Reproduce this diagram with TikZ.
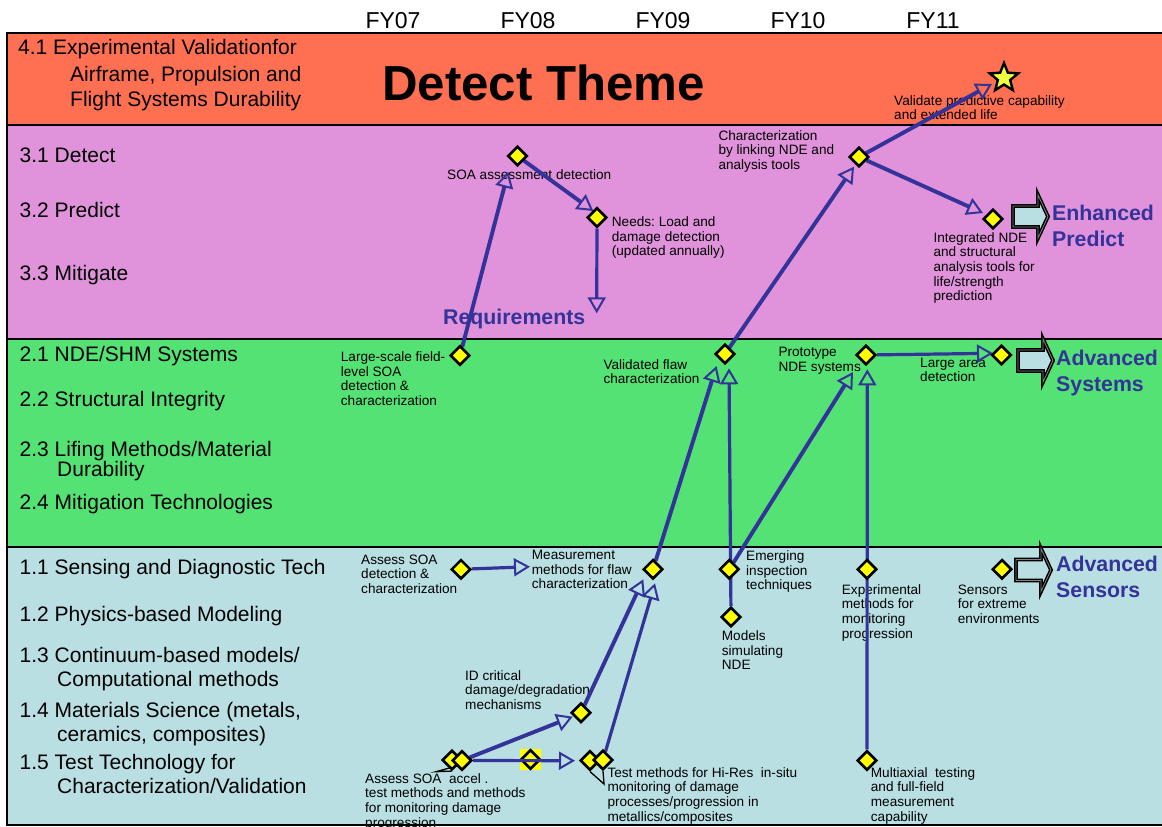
\documentclass[tikz,border=0pt]{standalone}
\usepackage{fontspec}
\setmainfont{Liberation Sans}
\usetikzlibrary{arrows.meta,shapes.geometric}
\frenchspacing

\definecolor{bandorange}{RGB}{255,111,82}
\definecolor{bandpurple}{RGB}{224,147,219}
\definecolor{bandgreen}{RGB}{84,226,116}
\definecolor{bandblue}{RGB}{185,223,227}
\definecolor{flowblue}{RGB}{51,51,153}
\definecolor{markyellow}{RGB}{255,255,0}
\definecolor{staryellow}{RGB}{238,255,64}

\pgfdeclarelayer{bands}
\pgfdeclarelayer{labels}
\pgfdeclarelayer{links}
\pgfsetlayers{bands,labels,links,main}

\begin{document}
\begin{tikzpicture}[x=1pt, y=-1pt,
  bandrule/.style={draw=black, line width=2pt},
  milestone/.style={diamond, draw=black, line width=2.6pt, fill=markyellow,
    inner sep=0pt, minimum width=19.5pt, minimum height=19.5pt},
  lbl/.style={font=\fontsize{13.6}{14.6}\selectfont, align=left,
    anchor=north west, inner sep=0pt, text=black},
  bandlbl/.style={font=\fontsize{21}{24}\selectfont, anchor=base west, inner sep=0pt},
  yearlbl/.style={font=\fontsize{23}{26}\selectfont, anchor=base, inner sep=0pt},
  goal/.style={font=\bfseries\fontsize{21.3}{25.5}\selectfont, text=flowblue,
    align=left, anchor=north west, inner sep=0pt},
  flow/.style={draw=flowblue, line width=3.9pt,
    -{Triangle[open, length=16pt, width=18pt, line width=2pt]}},
  twin/.style={flow, line width=3.2pt},
  callout/.style={draw=black, line width=1.3pt},
  pics/bigarrow/.style={code={
    \path[draw=black, line width=1.5pt, double=gray, double distance=0.8pt, #1]
      (0,-10.5) -- (25,-10.5) -- (25,-21.5) -- (35,0) -- (25,21.5)
      -- (25,10.5) -- (0,10.5) -- cycle;
  }}
]
\useasboundingbox (0,0) rectangle (1162,827);

% ---------- horizontal bands ----------
\begin{pgfonlayer}{bands}
\begin{scope}
  \clip (0,0) rectangle (1162,827);
  \path[bandrule, fill=bandorange] (7,33)    rectangle (1180,124.5);
  \path[bandrule, fill=bandpurple] (7,124.5) rectangle (1180,338.5);
  \path[bandrule, fill=bandgreen]  (7,338.5) rectangle (1180,547);
  \path[bandrule, fill=bandblue]   (7,547)   rectangle (1180,825);
\end{scope}
\end{pgfonlayer}

% ---------- texts ----------
\begin{pgfonlayer}{labels}
  % fiscal years
  \node[yearlbl] (fy07) at (393,28.5) {FY07};
  \node[yearlbl] (fy08) at (528,28.5) {FY08};
  \node[yearlbl] (fy09) at (663,28.5) {FY09};
  \node[yearlbl] (fy10) at (798,28.5) {FY10};
  \node[yearlbl] (fy11) at (933,28.5) {FY11};

  % band headings
  \node[bandlbl] (h41a) at (18,54.5)  {4.1 Experimental Validationfor};
  \node[bandlbl] (h41b) at (70,81.5)  {Airframe, Propulsion and};
  \node[bandlbl] (h41c) at (70,106.5) {Flight Systems Durability};
  \node[font=\bfseries\fontsize{49.2}{54}\selectfont, anchor=base, inner sep=0pt]
    (theme) at (543.5,100) {Detect Theme};

  \node[bandlbl] (h31) at (19.5,162.5) {3.1 Detect};
  \node[bandlbl] (h32) at (19.5,217.5) {3.2 Predict};
  \node[bandlbl] (h33) at (19.5,280)   {3.3 Mitigate};

  \node[bandlbl] (h21)  at (19.5,361)   {2.1 NDE/SHM Systems};
  \node[bandlbl] (h22)  at (19.5,406)   {2.2 Structural Integrity};
  \node[bandlbl] (h23a) at (19.5,456)   {2.3 Lifing Methods/Material};
  \node[bandlbl] (h23b) at (57,476.5)   {Durability};
  \node[bandlbl] (h24)  at (19.5,509)   {2.4 Mitigation Technologies};

  \node[bandlbl] (h11)  at (19.5,574.5) {1.1 Sensing and Diagnostic Tech};
  \node[bandlbl] (h12)  at (19.5,621.5) {1.2 Physics-based Modeling};
  \node[bandlbl] (h13a) at (19.5,662.5) {1.3 Continuum-based models/};
  \node[bandlbl] (h13b) at (57,686.5)   {Computational methods};
  \node[bandlbl] (h14a) at (19.5,717.5) {1.4 Materials Science (metals,};
  \node[bandlbl] (h14b) at (57,741.5)   {ceramics, composites)};
  \node[bandlbl] (h15a) at (19.5,769.5) {1.5 Test Technology for};
  \node[bandlbl] (h15b) at (57,793.5)   {Characterization/Validation};

  % milestone descriptions
  \node[lbl] (t-soa)   at (447,169)     {SOA assessment detection};
  \node[lbl] (t-needs) at (611.7,216.7) {Needs: Load and\\damage detection\\(updated annually)};
  \node[lbl] (t-charz) at (718.3,130)   {Characterization\\by linking NDE and\\analysis tools};
  \node[lbl] (t-valid) at (894,95)      {Validate predictive capability\\and extended life};
  \node[lbl] (t-integ) at (933.3,232.3) {Integrated NDE\\and structural\\analysis tools for\\life/strength\\prediction};
  \node[lbl] (t-field) at (340.7,351.7) {Large-scale field-\\level SOA\\detection \&\\characterization};
  \node[lbl] (t-vflaw) at (603.3,359.3) {Validated flaw\\characterization};
  \node[lbl] (t-proto) at (778.3,347.3) {Prototype\\NDE systems};
  \node[lbl] (t-larea) at (920,357.7)   {Large area\\detection};
  \node[lbl] (t-assess) at (361,554.3)  {Assess SOA\\detection \&\\characterization};
  \node[lbl] (t-meas)  at (531.7,550)   {Measurement\\methods for flaw\\characterization};
  \node[lbl] (t-emerg) at (746,550.7)   {Emerging\\inspection\\techniques};
  \node[lbl] (t-models) at (721.7,630.7) {Models\\simulating\\NDE};
  \node[lbl] (t-exper) at (841.7,584.3) {Experimental\\methods for\\monitoring\\progression};
  \node[lbl] (t-sens)  at (957.7,584.3) {Sensors\\for extreme\\environments};
  \node[lbl] (t-idcrit) at (465,670)    {ID critical\\damage/degradation\\mechanisms};
  \node[lbl] (t-accel) at (365,773.3)   {Assess SOA\ \ accel .\\test methods and methods\\for monitoring damage\\progression};
  \node[lbl] (t-test)  at (607.3,767.3) {Test methods for Hi-Res\ \ in-situ\\monitoring of damage\\processes/progression in\\metallics/composites};
  \node[lbl] (t-multi) at (870.7,767.3) {Multiaxial\ \ testing\\and full-field\\measurement\\capability};

  % outcome captions
  \node[font=\bfseries\fontsize{21.3}{25.5}\selectfont, text=flowblue,
    anchor=base west, inner sep=0pt] (req) at (443,324.4) {Requirements};
  \node[goal] (g-pred) at (1052,205) {Enhanced\\Predict};
  \node[goal] (g-sys)  at (1056,350) {Advanced\\Systems};
  \node[goal] (g-sens) at (1056,556) {Advanced\\Sensors};

  % highlighted milestone between the accelerated tests
  \node[fill=markyellow, minimum size=21pt, inner sep=0pt] (midsq) at (530.5,759.5) {};
  \node[milestone] (mid) at (midsq) {};
\end{pgfonlayer}

% ---------- milestones ----------
\node[milestone] (soa)     at (517.5,156)   {};
\node[milestone] (needs)   at (597,217.5)   {};
\node[milestone] (field)   at (460,355.5)   {};
\node[milestone] (vflaw)   at (725,354)     {};
\node[milestone] (charz)   at (859,157)     {};
\node[milestone] (integ)   at (993,219)     {};
\node[milestone] (proto)   at (866,355)     {};
\node[milestone] (larea)   at (1001.5,355)  {};
\node[milestone] (assess)  at (461,569.3)   {};
\node[milestone] (meas)    at (653,569.3)   {};
\node[milestone] (emerg)   at (729.3,569.3) {};
\node[milestone] (models)  at (731,617)     {};
\node[milestone] (exper)   at (867,569.3)   {};
\node[milestone] (sensors) at (1002,569.3)  {};
\node[milestone] (idcrit)  at (581,712.7)   {};
\node[milestone] (accelA)  at (452,760)     {};
\node[milestone] (accelB)  at (462,760.5)   {};
\node[milestone] (testA)   at (590,760.5)   {};
\node[milestone] (testB)   at (603,760)     {};
\node[milestone] (multi)   at (867,760.5)   {};
\node[star, star points=5, star point ratio=2.3, draw=black, line width=2.4pt,
  fill=staryellow, minimum size=30pt, inner sep=0pt] (goalstar) at (1004,78) {};

% ---------- block arrows ----------
\pic (pa) at (1013,216.5) {bigarrow={fill=bandblue}};
\pic (sa) at (1018,360.5) {bigarrow={fill=bandblue}};
\pic (na) at (1016,570)   {bigarrow={fill=bandblue}};

% ---------- connectors ----------
\coordinate (soa-in)    at (508.3,171.7);
\coordinate (needs-in)  at (593.3,211);
\coordinate (needs-out) at (596.7,313.3);
\coordinate (charz-in)  at (854,166.7);
\coordinate (star-in)   at (992,84);
\coordinate (integ-in)  at (983,213);
\coordinate (larea-in)  at (993,353.3);
\coordinate (vflaw-inA) at (716.5,366);
\coordinate (vflaw-inB) at (729,368.3);
\coordinate (proto-inA) at (853,372);
\coordinate (proto-inB) at (867.3,369.3);
\coordinate (meas-inA)  at (530,566.7);
\coordinate (meas-inB)  at (643.3,579.3);
\coordinate (meas-inC)  at (655,583.3);
\coordinate (idcrit-in) at (572.7,716.7);
\coordinate (test-in)   at (575,760.7);
\coordinate (accel-tail) at (436,771.7);
\coordinate (test-tail)  at (604,784);

\begin{pgfonlayer}{links}
  \draw[flow] (field)  -- (soa-in);
  \draw[flow] (soa)    -- (needs-in);
  \draw[twin] (needs)  -- (needs-out);
  \draw[flow] (vflaw)  -- (charz-in);
  \draw[flow] (charz)  -- (star-in);
  \draw[flow] (charz)  -- (integ-in);
  \draw[twin] (proto)  -- (larea-in);
  \draw[flow] (meas)   -- (vflaw-inA);
  \draw[twin] (models) -- (vflaw-inB);
  \draw[flow] (emerg)  -- (proto-inA);
  \draw[twin] (multi)  -- (proto-inB);
  \draw[twin] (assess) -- (meas-inA);
  \draw[flow] (idcrit) -- (meas-inB);
  \draw[twin] (testB)  -- (meas-inC);
  \draw[flow] (accelB) -- (idcrit-in);
  \draw[twin] (accelB) -- (test-in);
  % callout pointers
  \draw[callout] (accelA.south) -- (accel-tail) -- (accelB.south west);
  \draw[callout] (testA.south) -- (test-tail) -- (testB.south);
\end{pgfonlayer}
\end{tikzpicture}
\end{document}
